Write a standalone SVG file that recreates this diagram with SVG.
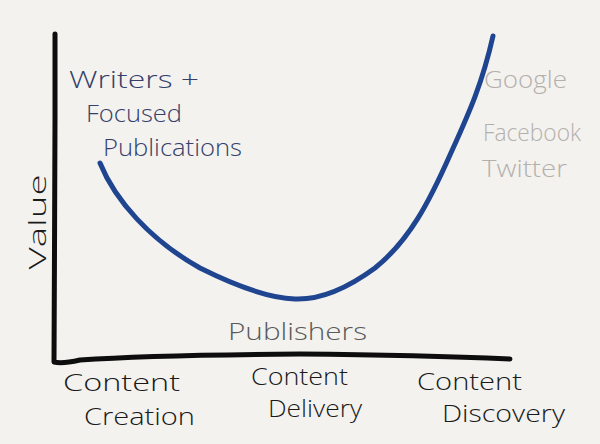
<svg xmlns="http://www.w3.org/2000/svg" width="600" height="444" viewBox="0 0 600 444">
<style>
text{font-family:"Open Sans","Liberation Sans",sans-serif;font-weight:300;font-size:24px}
.ink{fill:#1a1a1a}
.blue{fill:#33406a}
.grey{fill:#b3b0ac}
.mid{fill:#5a5a5a}
.axis{fill:none;stroke:#0d0d0d;stroke-width:5;stroke-linecap:round;stroke-linejoin:round}
.curve{fill:none;stroke:#1f4590;stroke-width:5;stroke-linecap:round;stroke-linejoin:round}
</style>
<rect width="600" height="444" fill="#f3f2ef"/>
<g id="axes">
<path class="axis" d="M55,34 L55,120 L54.5,250 L54,362 Q62,364 80,360 Q150,355 300,354 Q420,355 510,359"/>
</g>
<g id="curve">
<path class="curve" d="M100,163 C115,200 150,240 200,268 C240,288 270,298 295,299 C320,300 345,290 375,268 C410,240 430,200 450,155 C468,115 482,85 493,36"/>
</g>
<g id="labels">
<text class="blue" x="69" y="88" textLength="130" lengthAdjust="spacingAndGlyphs">Writers +</text>
<text class="blue" x="86" y="122" textLength="96" lengthAdjust="spacingAndGlyphs">Focused</text>
<text class="blue" x="103" y="156" textLength="139" lengthAdjust="spacingAndGlyphs">Publications</text>
<text class="grey" x="484" y="88" textLength="83" lengthAdjust="spacingAndGlyphs">Google</text>
<text class="grey" x="483" y="141" textLength="98" lengthAdjust="spacingAndGlyphs">Facebook</text>
<text class="grey" x="482" y="177" textLength="85" lengthAdjust="spacingAndGlyphs">Twitter</text>
<text class="mid" x="228" y="340" textLength="139" lengthAdjust="spacingAndGlyphs">Publishers</text>
<text class="ink" transform="translate(46,222) rotate(-90)" text-anchor="middle" textLength="95" lengthAdjust="spacingAndGlyphs">Value</text>
<text class="ink" x="63" y="391" textLength="117" lengthAdjust="spacingAndGlyphs">Content</text>
<text class="ink" x="84" y="425" textLength="111" lengthAdjust="spacingAndGlyphs">Creation</text>
<text class="ink" x="251" y="385" textLength="97" lengthAdjust="spacingAndGlyphs">Content</text>
<text class="ink" x="268" y="417" textLength="94" lengthAdjust="spacingAndGlyphs">Delivery</text>
<text class="ink" x="417" y="390" textLength="105" lengthAdjust="spacingAndGlyphs">Content</text>
<text class="ink" x="442" y="422" textLength="123" lengthAdjust="spacingAndGlyphs">Discovery</text>
</g>
</svg>
